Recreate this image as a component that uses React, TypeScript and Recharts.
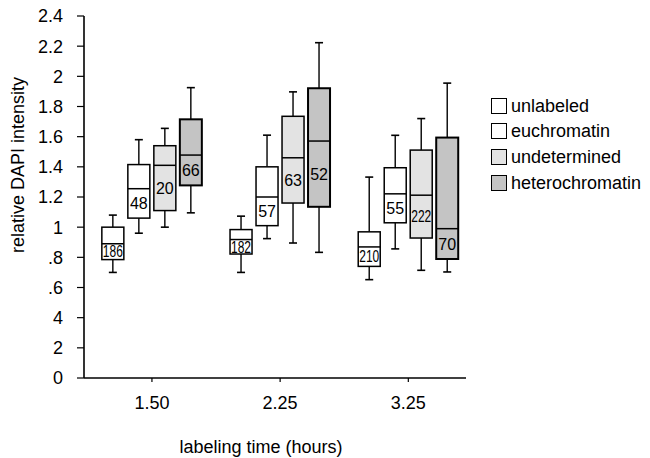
import React from "react";
import { ComposedChart, Bar, XAxis, YAxis } from "recharts";

const categories = ["1.50", "2.25", "3.25"];
const seriesNames = ["unlabeled", "euchromatin", "undetermined", "heterochromatin"];
const seriesFills = ["#ffffff", "#ffffff", "#e3e3e3", "#c4c4c4"];
const seriesStroke = [1.5, 1.5, 1.5, 2];

// [low whisker, Q1, median, Q3, high whisker] per category
const unlabeled = [
  [0.7, 0.785, 0.89, 1.0, 1.08],
  [0.7, 0.822, 0.918, 0.984, 1.073],
  [0.652, 0.74, 0.869, 0.969, 1.332],
];
const euchromatin = [
  [0.96, 1.06, 1.255, 1.415, 1.58],
  [0.924, 1.01, 1.2, 1.4, 1.61],
  [0.856, 1.029, 1.221, 1.394, 1.609],
];
const undetermined = [
  [1.0, 1.11, 1.41, 1.54, 1.655],
  [0.895, 1.16, 1.46, 1.735, 1.897],
  [0.714, 0.928, 1.212, 1.511, 1.72],
];
const heterochromatin = [
  [1.095, 1.277, 1.478, 1.715, 1.925],
  [0.833, 1.135, 1.571, 1.921, 2.223],
  [0.703, 0.789, 0.99, 1.594, 1.955],
];
const unlabeledN = [186, 182, 210];
const euchromatinN = [48, 57, 55];
const undeterminedN = [20, 63, 222];
const heterochromatinN = [66, 52, 70];

const yTicks = [0, 0.2, 0.4, 0.6, 0.8, 1, 1.2, 1.4, 1.6, 1.8, 2, 2.2, 2.4];
const yTickLabels = ["0", "2", "4", ".6", ".8", "1", "1.2", "1.4", "1.6", "1.8", "2", "2.2", "2.4"];

const statsBySeries = [unlabeled, euchromatin, undetermined, heterochromatin];
const countsBySeries = [unlabeledN, euchromatinN, undeterminedN, heterochromatinN];

const data = categories.map((c, i) => {
  const row: any = { pos: i + 1, category: c };
  seriesNames.forEach((s, k) => {
    const st = statsBySeries[k][i];
    row[s] = [st[0], st[4]];
    row[s + "Stats"] = st;
    row[s + "N"] = countsBySeries[k][i];
  });
  return row;
});

const FONT = "'Liberation Sans', Arial, Helvetica, sans-serif";

function BoxShape(props: any) {
  const { x, y, width, height, payload, seriesKey, fill, sw } = props;
  const stats = payload[seriesKey + "Stats"];
  const n = payload[seriesKey + "N"];
  const [lo, q1, med, q3, hi] = stats;
  const top = Math.min(y, y + height);
  const h = Math.abs(height);
  const py = (v: number) => top + ((hi - v) / (hi - lo)) * h;
  const cx = x + width / 2;
  const label = String(n);
  const textY = (py(med) + py(q1)) / 2;
  return (
    <g>
      <line x1={cx} x2={cx} y1={py(hi)} y2={py(q3)} stroke="#000" strokeWidth={1.4} />
      <line x1={cx} x2={cx} y1={py(q1)} y2={py(lo)} stroke="#000" strokeWidth={1.4} />
      <line x1={cx - 4} x2={cx + 4} y1={py(hi)} y2={py(hi)} stroke="#000" strokeWidth={1.6} />
      <line x1={cx - 4} x2={cx + 4} y1={py(lo)} y2={py(lo)} stroke="#000" strokeWidth={1.6} />
      <rect x={x} y={py(q3)} width={width} height={py(q1) - py(q3)} fill={fill} stroke="#000" strokeWidth={sw} />
      <line x1={x} x2={x + width} y1={py(med)} y2={py(med)} stroke="#000" strokeWidth={1.5} />
      <text
        x={cx}
        y={textY}
        dy="0.36em"
        textAnchor="middle"
        fontFamily={FONT}
        fontSize={16}
        fill="#000"
        {...(label.length > 2 ? { textLength: width - 2, lengthAdjust: "spacingAndGlyphs" } : {})}
      >
        {label}
      </text>
    </g>
  );
}

function LegendBox() {
  return (
    <div style={{ position: "absolute", left: 491, top: 93, fontFamily: FONT, fontSize: 18, color: "#000" }}>
      {seriesNames.map((s, k) => (
        <div key={s} style={{ display: "flex", alignItems: "center", height: 25.6 }}>
          <div
            style={{
              width: 14,
              height: 14,
              border: "1.5px solid #000",
              background: seriesFills[k],
              marginRight: 4,
            }}
          />
          <span style={{ lineHeight: "20px" }}>{s}</span>
        </div>
      ))}
    </div>
  );
}

export default function App() {
  return (
    <div style={{ position: "absolute", left: 0, top: 0, width: 650, height: 458, background: "#fff", fontFamily: FONT }}>
      <ComposedChart
        width={650}
        height={458}
        data={data}
        margin={{ top: 16, right: 184, bottom: 0, left: 0 }}
        barSize={22}
        barGap={4}
      >
        <XAxis
          dataKey="pos"
          type="number"
          domain={[0.47, 3.45]}
          ticks={[1, 2, 3]}
          tickFormatter={(v: number) => categories[Math.round(v) - 1]}
          height={80}
          axisLine={{ stroke: "#000", strokeWidth: 1.6 }}
          tickLine={{ stroke: "#000", strokeWidth: 1.2 }}
          tickSize={4}
          tickMargin={14}
          tick={{ fontFamily: FONT, fontSize: 18, fill: "#000" }}
          label={{
            content: (p: any) => {
              const vb = p.viewBox;
              return (
                <text x={vb.x + vb.width / 2 - 14} y={453} textAnchor="middle" fontFamily={FONT} fontSize={18} fill="#000">
                  labeling time (hours)
                </text>
              );
            },
          }}
        />
        <YAxis
          type="number"
          domain={[0, 2.4]}
          ticks={yTicks}
          interval={0}
          tickFormatter={(v: number) => {
            const idx = yTicks.findIndex((t) => Math.abs(t - v) < 1e-6);
            return idx >= 0 ? yTickLabels[idx] : String(v);
          }}
          width={84}
          axisLine={{ stroke: "#000", strokeWidth: 1.6 }}
          tickLine={{ stroke: "#000", strokeWidth: 1.2 }}
          tickSize={7}
          tickMargin={14}
          tick={{ fontFamily: FONT, fontSize: 18, fill: "#000" }}
          label={{
            content: (p: any) => {
              const vb = p.viewBox;
              const cy = vb.y + vb.height / 2 - 32;
              return (
                <text
                  x={18}
                  y={cy}
                  transform={`rotate(-90, 18, ${cy})`}
                  textAnchor="middle"
                  dy="0.36em"
                  fontFamily={FONT}
                  fontSize={18}
                  fill="#000"
                >
                  relative DAPI intensity
                </text>
              );
            },
          }}
        />
        {seriesNames.map((s, k) => (
          <Bar
            key={s}
            dataKey={s}
            isAnimationActive={false}
            fill={seriesFills[k]}
            shape={(p: any) => <BoxShape {...p} seriesKey={s} fill={seriesFills[k]} sw={seriesStroke[k]} />}
          />
        ))}
      </ComposedChart>
      <LegendBox />
    </div>
  );
}
